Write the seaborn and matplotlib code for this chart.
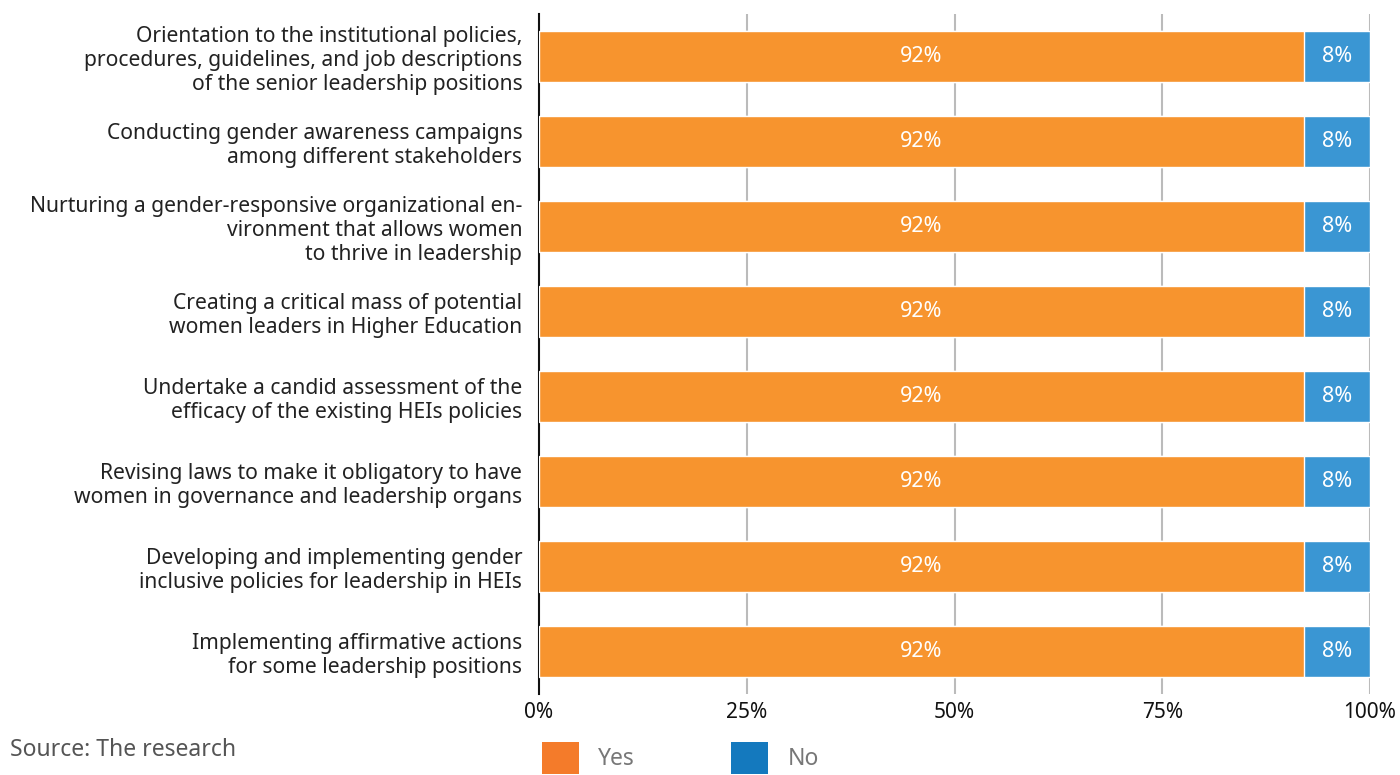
import matplotlib
matplotlib.use("Agg")
import matplotlib.pyplot as plt
import seaborn as sns
import pandas as pd
from matplotlib.patches import Patch

categories = [
    "Orientation to the institutional policies,\nprocedures, guidelines, and job descriptions\nof the senior leadership positions",
    "Conducting gender awareness campaigns\namong different stakeholders",
    "Nurturing a gender-responsive organizational en-\nvironment that allows women\nto thrive in leadership",
    "Creating a critical mass of potential\nwomen leaders in Higher Education",
    "Undertake a candid assessment of the\nefficacy of the existing HEIs policies",
    "Revising laws to make it obligatory to have\nwomen in governance and leadership organs",
    "Developing and implementing gender\ninclusive policies for leadership in HEIs",
    "Implementing affirmative actions\nfor some leadership positions",
]
yes_pct = [92, 92, 92, 92, 92, 92, 92, 92]
no_pct = [8, 8, 8, 8, 8, 8, 8, 8]
tick_values = [0, 25, 50, 75, 100]
tick_labels = ["0%", "25%", "50%", "75%", "100%"]
series_names = ["Yes", "No"]

YES_BAR = "#F7942E"
NO_BAR = "#3A96D3"
YES_KEY = "#F47B2A"
NO_KEY = "#1479BE"

sns.set_theme(style="white")
plt.rcParams["font.family"] = ["Noto Sans", "DejaVu Sans"]

df = pd.DataFrame({"category": categories, "yes": yes_pct, "no": no_pct})
df["total"] = df["yes"] + df["no"]

fig = plt.figure(figsize=(14, 7.75), dpi=100)
ax = fig.add_axes([0.385, 0.1045, 0.5936, 0.8775])

for x in tick_values[1:]:
    ax.axvline(x, color="#BBBBBB", lw=1.5, zorder=0)

# stacked bars: full-length "No" segment underneath, "Yes" segment on top
sns.barplot(data=df, x="total", y="category", orient="h", color=NO_BAR,
            width=0.59, saturation=1, ax=ax, zorder=2)
sns.barplot(data=df, x="yes", y="category", orient="h", color=YES_BAR,
            width=0.59, saturation=1, ax=ax, zorder=3)

for i, (y, n) in enumerate(zip(yes_pct, no_pct)):
    ax.text(y / 2, i, f"{y}%", ha="center", va="center", color="white", fontsize=15.5, zorder=4)
    ax.text(y + n / 2, i, f"{n}%", ha="center", va="center", color="white", fontsize=15.5, zorder=4)

ax.set_xlim(0, 100)
ax.set_ylim(len(categories) - 0.5, -0.5)
ax.set_xticks(tick_values)
ax.set_xticklabels(tick_labels, fontsize=15, color="#111111")
ax.set_yticks(range(len(categories)))
ax.set_yticklabels(categories, fontsize=15.2, color="#222222", linespacing=1.2)
ax.set_xlabel("")
ax.set_ylabel("")
ax.tick_params(axis="x", length=6, width=1.2, color="#BBBBBB", pad=3, direction="inout")
ax.tick_params(axis="y", length=0, pad=12)
for s in ["top", "right", "bottom"]:
    ax.spines[s].set_visible(False)
ax.spines["left"].set_color("#111111")
ax.spines["left"].set_linewidth(1.5)

fig.text(10 / 1400, 1 - 750 / 775, "Source: The research", fontsize=16.5, color="#555555",
         ha="left", va="center")

handles = [Patch(facecolor=YES_KEY, edgecolor="none"), Patch(facecolor=NO_KEY, edgecolor="none")]
leg = fig.legend(handles, series_names, loc="center left", bbox_to_anchor=(542 / 1400, 1 - 758 / 775),
                 ncol=2, frameon=False, fontsize=16.5, handlelength=1.6, handleheight=1.8,
                 handletextpad=0.85, columnspacing=4.2, borderpad=0, borderaxespad=0,
                 labelcolor="#777777")

fig.savefig("out.png", dpi=100)
